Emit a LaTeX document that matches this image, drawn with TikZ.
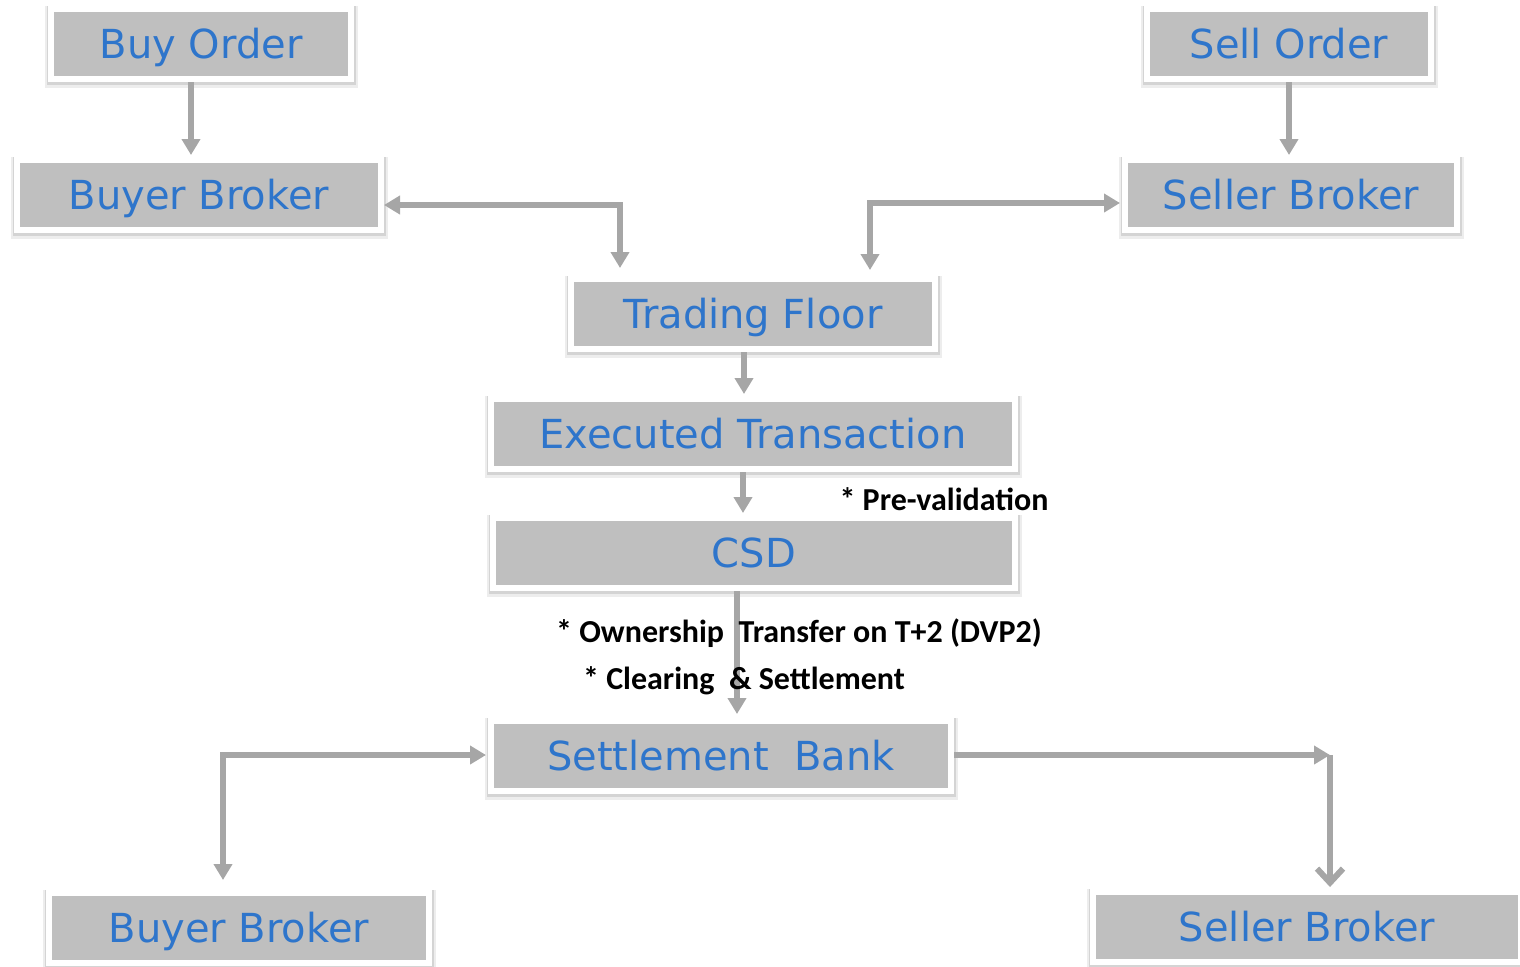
\documentclass[tikz,border=0pt]{standalone}
\usepackage{fontspec}
\setmainfont{DejaVu Sans}
\newfontfamily\notefont{Carlito}
\usetikzlibrary{arrows.meta}
\definecolor{boxgray}{HTML}{BFBFBF}
\definecolor{linegray}{HTML}{A6A6A6}
\definecolor{textblue}{HTML}{2E75CB}
\begin{document}
\begin{tikzpicture}[x=0.5pt, y=-0.5pt, >={Triangle[width=9pt, length=8pt]},
    box/.style={fill=boxgray, draw=white, line width=3pt, minimum height=35pt, inner sep=0pt,
        text height=14.6pt, text depth=0pt,
        text=textblue, font=\fontsize{20}{24}\selectfont,
        preaction={draw=black!7, line width=6.4pt, transform canvas={xshift=0.3pt, yshift=-1.5pt}},
        preaction={draw=black!17, line width=4.6pt, transform canvas={xshift=0.2pt, yshift=-0.9pt}}},
    conn/.style={draw=linegray, line width=3pt},
    note/.style={font=\notefont\bfseries\fontsize{16}{19}\selectfont, inner sep=0pt}]
    \useasboundingbox (0,0) rectangle (1520,966);

    \node[box, minimum width=150pt] (buy) at (201,44) {Buy Order};
    \node[box, minimum width=142pt] (sell) at (1289,44) {Sell Order};
    \node[box, minimum width=182pt] (bbt) at (199,195) {Buyer Broker};
    \node[box, minimum width=166pt] (sbt) at (1291,195) {Seller Broker};
    \node[box, minimum width=182pt] (tf) at (753,314) {Trading Floor};
    \node[box, minimum width=262pt] (et) at (753,434) {Executed Transaction};
    \node[box, minimum width=261pt] (csd) at (754,553) {CSD};
    \node[box, minimum width=230pt] (sb) at (721,756) {Settlement\ \ Bank};
    \node[box, minimum width=190pt] (bbb) at (239,928) {Buyer Broker};
    \node[box, minimum width=214pt] (sbb) at (1307,927) {Seller Broker};

    \coordinate (k1) at (620,205);
    \coordinate (k2) at (870,203);
    \coordinate (k3) at (223,755);
    \coordinate (k4) at (1330,755);

    \draw[conn, ->, shorten >=1pt] ([xshift=-5pt]buy.south) -- ([xshift=-5pt]buy.south |- bbt.north);
    \draw[conn, ->, shorten >=1pt] (sell.south) -- (sell.south |- sbt.north);
    \draw[conn, <->, shorten <=0pt, shorten >=4pt] (bbt.east |- k1) -- (k1) -- (k1 |- tf.north);
    \draw[conn, <->, shorten <=1pt, shorten >=3pt] (sbt.west |- k2) -- (k2) -- (k2 |- tf.north);
    \draw[conn, ->, shorten >=1pt] ([xshift=-4.5pt]tf.south) -- ([xshift=-4.5pt]tf.south |- et.north);
    \draw[conn, ->, shorten >=1pt] ([xshift=-5pt]et.south) -- ([xshift=-5pt]et.south |- csd.north);
    \draw[conn, ->, shorten >=2pt] ([xshift=-8.5pt]csd.south) -- ([xshift=-8.5pt]csd.south |- sb.north);
    \draw[conn, <->, shorten <=5pt, shorten >=1pt] (k3 |- bbb.north) -- (k3) -- (k3 -| sb.west);
    \draw[conn, ->] (sb.east |- k4) -- (k4);
    \draw[conn, -{Straight Barb[width=13pt, length=7pt]}, shorten >=1pt] (k4) -- (k4 |- sbb.north);

    \node[note] (pv) at (944,499) {* Pre-validation};
    \node[note] (ot) at (799,633) {* Ownership\ \ Transfer on T+2 (DVP2)};
    \node[note] (cs) at (744,681) {* Clearing\ \ \& Settlement};
\end{tikzpicture}
\end{document}
